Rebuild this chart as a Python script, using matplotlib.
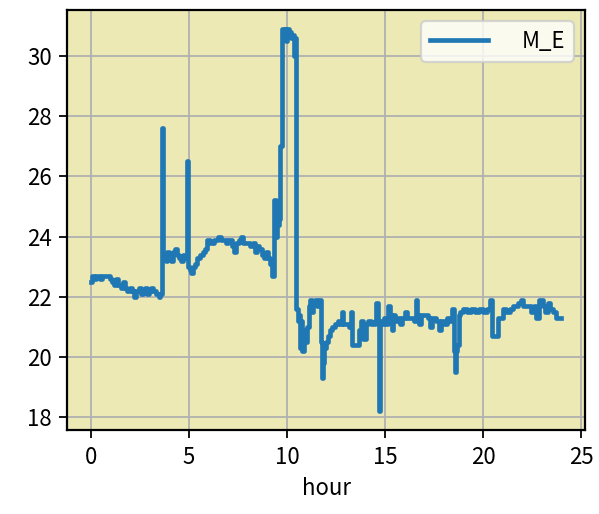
import matplotlib
matplotlib.use("Agg")
import matplotlib.pyplot as plt

plt.rcParams['font.family'] = ['Noto Sans CJK JP', 'DejaVu Sans']
plt.rcParams['axes.unicode_minus'] = False

# change points (hour, value) of the M_E series, drawn as steps
hours = [
    0.00, 0.05, 0.15, 0.25, 0.45, 0.55, 0.85, 1.00, 1.10, 1.20, 1.30, 1.40, 1.55, 1.65,
    1.75, 1.85, 2.00, 2.10, 2.20, 2.30, 2.45, 2.55, 2.65, 2.75, 2.85, 2.95, 3.05, 3.15,
    3.30, 3.45, 3.55, 3.62, 3.64, 3.70, 3.78, 3.85, 3.90, 4.00, 4.10, 4.20, 4.30, 4.40,
    4.50, 4.60, 4.70, 4.80, 4.90, 4.92, 4.97, 5.05, 5.12, 5.20, 5.30, 5.40, 5.55, 5.70,
    5.80, 5.90, 6.10, 6.30, 6.50, 6.65, 6.90, 7.00, 7.20, 7.30, 7.40, 7.55, 7.65, 7.75,
    7.90, 8.10, 8.25, 8.35, 8.45, 8.60, 8.75, 8.85, 8.95, 9.05, 9.15, 9.25, 9.33, 9.36,
    9.42, 9.50, 9.58, 9.66, 9.72, 9.76, 9.85, 9.90, 9.95, 10.00, 10.10, 10.20, 10.30, 10.36,
    10.42, 10.48, 10.55, 10.60, 10.65, 10.72, 10.78, 10.85, 10.92, 11.00, 11.10, 11.20,
    11.28, 11.35, 11.45, 11.55, 11.62, 11.74, 11.77, 11.82, 11.90, 12.00, 12.10, 12.20,
    12.30, 12.45, 12.60, 12.70, 12.82, 12.87, 13.00, 13.15, 13.25, 13.32, 13.45, 13.70,
    13.78, 13.90, 14.05, 14.15, 14.30, 14.50, 14.56, 14.62, 14.68, 14.74, 14.85, 14.95,
    15.05, 15.15, 15.25, 15.35, 15.42, 15.50, 15.60, 15.75, 15.85, 16.00, 16.10, 16.30,
    16.50, 16.56, 16.62, 16.75, 16.85, 17.00, 17.20, 17.28, 17.40, 17.60, 17.75, 17.85,
    18.00, 18.15, 18.30, 18.42, 18.50, 18.55, 18.62, 18.68, 18.75, 18.85, 19.00, 19.20,
    19.40, 19.60, 19.80, 20.00, 20.20, 20.36, 20.44, 20.75, 21.00, 21.15, 21.40, 21.55,
    21.80, 21.92, 22.05, 22.30, 22.45, 22.60, 22.72, 22.85, 23.05, 23.15, 23.30, 23.40,
    23.55, 23.70, 24.00,
]
values = [
    22.5, 22.7, 22.6, 22.7, 22.6, 22.7, 22.7, 22.6, 22.5, 22.4, 22.6, 22.4, 22.3, 22.5,
    22.3, 22.2, 22.3, 22.2, 22.0, 22.2, 22.3, 22.1, 22.2, 22.3, 22.1, 22.2, 22.3, 22.2,
    22.1, 22.0, 22.1, 23.3, 27.6, 23.4, 23.3, 23.2, 23.5, 23.3, 23.2, 23.5, 23.6, 23.4,
    23.3, 23.2, 23.4, 23.3, 23.3, 26.5, 23.0, 22.9, 22.8, 23.0, 23.1, 23.3, 23.4, 23.5,
    23.6, 23.9, 23.8, 23.9, 24.0, 23.9, 23.8, 23.9, 23.7, 23.5, 23.8, 23.9, 24.0, 23.8,
    23.8, 23.7, 23.8, 23.5, 23.7, 23.6, 23.4, 23.3, 23.5, 23.3, 23.1, 22.7, 23.3, 25.2,
    24.0, 24.4, 24.6, 27.0, 27.0, 30.9, 30.6, 30.9, 30.5, 30.9, 30.8, 30.6, 30.7, 30.0,
    30.6, 21.6, 21.2, 21.4, 20.3, 21.2, 20.2, 20.9, 20.5, 21.0, 21.7, 21.9,
    21.5, 21.8, 21.9, 21.7, 21.9, 20.5, 19.3, 19.8, 20.3, 20.5, 20.7, 20.9,
    21.0, 21.1, 21.2, 21.1, 21.5, 21.1, 21.1, 21.0, 21.5, 20.4, 20.4, 20.9,
    21.2, 20.6, 21.1, 21.2, 21.1, 21.2, 21.8, 21.1, 18.2, 21.2, 21.1, 21.3,
    21.1, 21.7, 21.4, 20.9, 21.4, 21.2, 21.3, 21.1, 21.3, 21.5, 21.3, 21.3,
    21.2, 21.9, 21.4, 21.1, 21.4, 21.4, 21.3, 21.0, 21.3, 21.2, 20.9, 21.2,
    21.1, 21.3, 21.2, 21.6, 20.2, 19.5, 20.2, 20.4, 21.4, 21.5, 21.6, 21.5,
    21.6, 21.5, 21.6, 21.5, 21.6, 21.9, 20.7, 21.3, 21.6, 21.5, 21.6, 21.7,
    21.8, 21.9, 21.7, 21.7, 21.5, 21.7, 21.3, 21.9, 21.7, 21.5, 21.8, 21.6,
    21.5, 21.3, 21.3,
]

fig = plt.figure(figsize=(599 / 160, 514 / 160), dpi=160)
ax = fig.add_axes([0.1124, 0.1634, 0.8642, 0.8171])
ax.set_facecolor('#ece9b4')
ax.plot(hours, values, drawstyle='steps-post', color='#1f77b4', lw=2.1, label='M_E')
ax.grid(True, color='#b0b0b0', lw=0.8)
ax.set_xlabel('hour')
ax.set_xticks([0, 5, 10, 15, 20, 25])
ax.set_yticks([18, 20, 22, 24, 26, 28, 30])
for sp in ax.spines.values():
    sp.set_linewidth(1.0)
ax.legend(loc='upper right', handlelength=2.6, handletextpad=1.5)
fig.savefig('out.png', dpi=160)
